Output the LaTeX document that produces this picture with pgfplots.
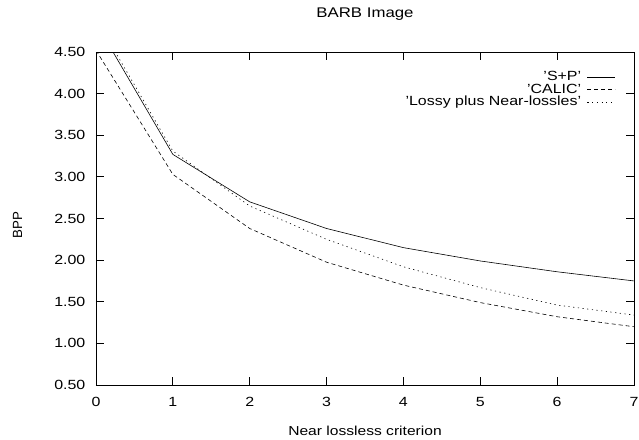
\documentclass[border=0pt]{standalone}
\usepackage{fontspec}
\setmainfont{Liberation Sans}[FakeStretch=1.2]
\newfontfamily\plainfont{Liberation Sans}
\usepackage{pgfplots}
\pgfplotsset{compat=1.18}
\begin{document}
\fontsize{13.3}{16}\selectfont
\begin{tikzpicture}[x=1pt,y=1pt]
\path[use as bounding box] (-96,-54) rectangle (543,385);
\begin{axis}[
  at={(0,0)}, anchor=south west,
  scale only axis, width=538pt, height=333pt,
  xmin=0, xmax=7, ymin=0.5, ymax=4.5,
  xtick={0,1,2,3,4,5,6,7},
  ytick={0.5,1,1.5,2,2.5,3,3.5,4,4.5},
  tick align=inside, major tick length=8pt,
  tick style={black, line width=0.8pt},
  axis line style={line width=0.9pt},
  /pgf/number format/assume math mode=true,
  yticklabel style={/pgf/number format/fixed, /pgf/number format/precision=2, /pgf/number format/fixed zerofill, xshift=-6pt},
  xticklabel style={yshift=-7.5pt},
  ticklabel style={font=\fontsize{13.3}{16}\selectfont},
  title={BARB Image},
  title style={at={(rel axis cs:0.5,1.096)}, anchor=center, font=\fontsize{14}{16}\selectfont},
  xlabel={Near lossless criterion},
  xlabel style={at={(rel axis cs:0.5,-0.138)}, anchor=center, font=\fontsize{13}{16}\selectfont},
  ylabel={BPP},
  ylabel style={at={(rel axis cs:-0.146,0.48)}, anchor=center, font=\plainfont\fontsize{13.3}{16}\selectfont},
  legend style={draw=none, fill=none, at={(rel axis cs:0.9665,0.948)}, anchor=north east,
    font=\fontsize{13.3}{16}\selectfont, row sep=-3pt, inner sep=0pt,
    /tikz/column 1/.style={column sep=4pt}},
  legend plot pos=right, legend cell align=right,
  legend image code/.code={\draw[#1] (0pt,0pt) -- (28pt,0pt);},
]
\addplot[black, line width=0.6pt] coordinates {
  (0,4.85) (1,3.27) (2,2.70) (3,2.38) (4,2.15) (5,1.99) (6,1.86) (7,1.75)};
\addlegendentry{'S+P'}
\addplot[black, line width=0.6pt, dash pattern=on 4pt off 3pt] coordinates {
  (0,4.52) (1,3.03) (2,2.38) (3,1.975) (4,1.70) (5,1.49) (6,1.32) (7,1.20)};
\addlegendentry{'CALIC'}
\addplot[black, line width=0.6pt, dash pattern=on 1.2pt off 3.5pt] coordinates {
  (0,4.90) (1,3.31) (2,2.65) (3,2.25) (4,1.92) (5,1.67) (6,1.46) (7,1.34)};
\addlegendentry{'Lossy plus Near-lossles'}
\end{axis}
\end{tikzpicture}
\end{document}
